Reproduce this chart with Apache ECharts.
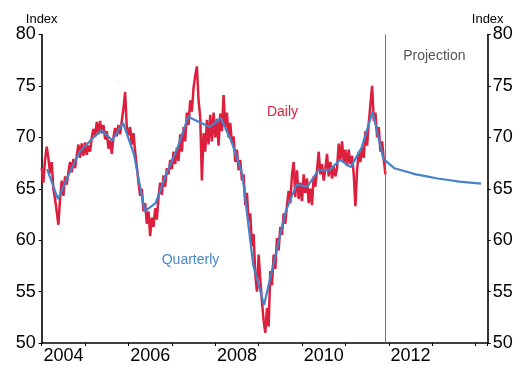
<!DOCTYPE html>
<html>
<head>
<meta charset="utf-8">
<style>
  html, body { margin: 0; padding: 0; background: #fff; }
  #chart { width: 520px; height: 365px; }
</style>
<script src="https://cdn.jsdelivr.net/npm/echarts@6/dist/echarts.min.js"></script>
</head>
<body>
<div id="chart"></div>
<script>
// Daily index, sampled every two weeks from the start of 2004
const dailyStart = 2004;
const dailyStep = 1 / 26;
const dailyValues = [
  67.0, 65.6, 67.8, 69.1, 68.0, 66.5, 67.6, 65.0, 64.0, 62.8,
  61.5, 64.0, 65.8, 64.3, 66.2, 65.4, 66.6, 67.6, 66.6, 67.9,
  67.0, 68.2, 69.3, 68.0, 69.4, 68.2, 69.5, 68.3, 69.2, 68.6,
  70.0, 70.8, 70.1, 71.5, 70.3, 71.6, 70.4, 71.2, 69.8, 70.6,
  68.9, 69.7, 68.4, 70.0, 70.9, 70.1, 71.2, 70.3, 71.6, 72.8,
  74.4, 71.0, 70.2, 71.0, 69.3, 70.4, 68.6, 67.2, 65.6, 64.3,
  65.0, 62.8, 63.6, 61.6, 62.8, 60.4, 62.2, 61.3, 63.1, 62.0,
  64.2, 65.6, 64.4, 66.3, 65.2, 67.0, 66.4, 67.8, 66.9, 68.6,
  67.4, 69.0, 67.7, 70.3, 68.6, 71.0, 69.6, 72.4, 71.2, 73.6,
  72.5, 74.8, 76.0, 76.9, 73.6, 72.0, 65.8, 70.4, 68.6, 71.7,
  69.3, 72.2, 69.6, 72.4, 70.0, 71.8, 69.2, 72.3, 70.6, 74.1,
  71.0, 72.4, 70.0, 71.4, 69.4, 70.1, 67.6, 68.8, 66.8, 67.8,
  65.8, 66.4, 63.4, 64.6, 61.8, 62.6, 59.4, 60.6, 56.6, 55.0,
  58.6, 56.2, 54.0, 52.2, 51.0, 53.4, 51.6, 57.0, 55.6, 58.6,
  57.2, 60.2, 59.0, 61.3, 60.5, 62.6, 61.6, 63.4, 64.8, 63.6,
  66.4, 67.6, 64.2, 66.8, 64.0, 65.6, 63.8, 66.4, 64.6, 66.0,
  63.6, 65.0, 63.4, 66.2, 65.2, 66.8, 68.6, 66.4, 67.4, 65.8,
  67.0, 68.4, 66.2, 67.6, 66.0, 67.2, 66.2, 67.0, 69.4, 67.8,
  69.6, 67.6, 68.8, 67.2, 68.8, 67.4, 68.2, 66.4, 63.3, 66.8,
  68.6, 67.6, 69.0, 68.0, 70.6, 69.2, 71.4, 73.2, 75.0, 71.6,
  72.4, 70.0, 71.0, 68.6, 69.6, 67.8, 66.4
];

// Quarterly averages (plotted mid-quarter), 2004 Q1 onward, then projection to 2014 Q1
const quarterStart = 2004.125;
const quarterStep = 0.25;
const quarterlyValues = [
  66.9, 64.0, 66.4, 68.6,
  69.7, 70.7, 69.7, 71.4,
  68.4, 62.8, 63.6, 66.5,
  68.9, 72.0, 71.5, 71.0,
  71.9, 69.6, 66.4, 57.6,
  53.7, 58.3, 62.8, 65.4,
  65.2, 66.8, 66.8, 67.8,
  67.1, 69.0, 72.5, 67.9,
  67.0, 66.7, 66.4, 66.2,
  66.0, 65.85, 65.7, 65.6,
  65.5
];

const projectionStart = 2011.93;
const yTicks = { min: 50, max: 80, step: 5 };
const xRange = { min: 2004, max: 2014.28 };
const evenYearLabels = [2004, 2006, 2008, 2010, 2012];

const dailyData = dailyValues.map((v, i) => [dailyStart + i * dailyStep, v]);
const quarterlyData = quarterlyValues.map((v, i) => [quarterStart + i * quarterStep, v]);

const FONT = '"Liberation Sans", Arial, Helvetica, sans-serif';
const RED = '#dc1f3d';
const BLUE = '#4583c9';

const yAxisBase = {
  type: 'value',
  min: yTicks.min,
  max: yTicks.max,
  interval: yTicks.step,
  name: 'Index',
  nameLocation: 'end',
  nameGap: 5,
  nameTextStyle: { fontFamily: FONT, fontSize: 13, color: '#000', align: 'center' },
  axisLine: { show: true, lineStyle: { color: '#000', width: 1.6 } },
  axisTick: { show: true, length: 3, lineStyle: { color: '#000', width: 1 } },
  axisLabel: { fontFamily: FONT, fontSize: 18, color: '#000', margin: 6 },
  splitLine: { show: false }
};

const chart = echarts.init(document.getElementById('chart'));
chart.setOption({
  animation: false,
  backgroundColor: '#fff',
  grid: { left: 41.7, right: 32.3, top: 34.5, bottom: 21.5 },
  xAxis: {
    type: 'value',
    min: xRange.min,
    max: xRange.max,
    interval: 1,
    axisLine: { show: true, onZero: false, lineStyle: { color: '#000', width: 1.6 } },
    axisTick: { show: true, length: 3, lineStyle: { color: '#000', width: 1 } },
    axisLabel: {
      fontFamily: FONT,
      fontSize: 18,
      color: '#000',
      margin: 4,
      padding: [0, 0, 0, 43.4],
      formatter: v => (evenYearLabels.indexOf(Math.round(v * 1000) / 1000) >= 0 ? String(v) : '')
    },
    splitLine: { show: false }
  },
  yAxis: [
    Object.assign({}, yAxisBase, { position: 'left' }),
    Object.assign({}, yAxisBase, { position: 'right', axisLabel: Object.assign({}, yAxisBase.axisLabel, { margin: 5 }) })
  ],
  series: [
    {
      name: 'Daily',
      type: 'line',
      data: dailyData,
      showSymbol: false,
      lineStyle: { color: RED, width: 2.5 },
      z: 2,
      markLine: {
        silent: true,
        symbol: 'none',
        label: { show: false },
        lineStyle: { color: '#707070', width: 1, type: 'solid' },
        data: [{ xAxis: projectionStart }]
      },
      markPoint: {
        silent: true,
        symbol: 'circle',
        symbolSize: 0,
        data: [
          {
            coord: [2009.55, 72.45],
            label: { show: true, position: 'inside', formatter: 'Daily', color: RED, fontFamily: FONT, fontSize: 14 }
          },
          {
            coord: [2007.43, 58.05],
            label: { show: true, position: 'inside', formatter: 'Quarterly', color: '#4a88cd', fontFamily: FONT, fontSize: 14 }
          },
          {
            coord: [2013.05, 77.85],
            label: { show: true, position: 'inside', formatter: 'Projection', color: '#555', fontFamily: FONT, fontSize: 14 }
          }
        ]
      }
    },
    {
      name: 'Quarterly',
      type: 'line',
      data: quarterlyData,
      showSymbol: false,
      lineStyle: { color: BLUE, width: 2.2 },
      z: 3
    }
  ]
});
</script>
</body>
</html>
